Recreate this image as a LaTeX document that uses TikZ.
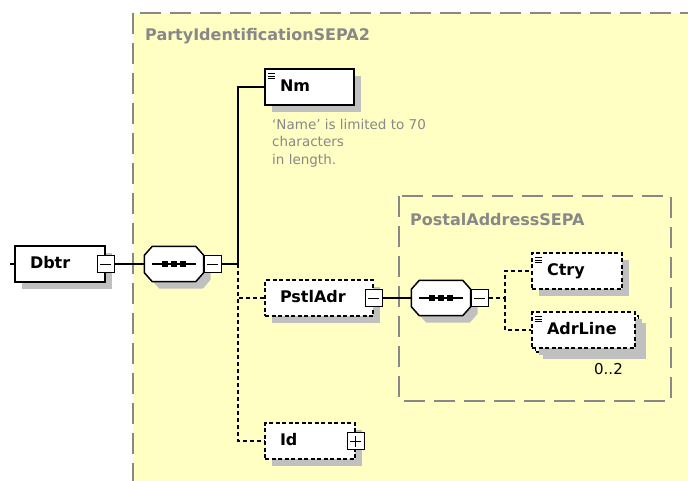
\documentclass[tikz,border=0pt]{standalone}
\usepackage{fontspec}
\setmainfont{DejaVu Sans}
\usepackage{tikz}
\usetikzlibrary{positioning, shadows}

\definecolor{groupfill}{RGB}{255,255,196}
\definecolor{groupline}{RGB}{136,136,136}
\definecolor{shade}{RGB}{192,192,192}

% Achteck fuer den Sequenz-Kompositor
\newcommand\octpath[1]{([xshift=8pt]#1.north west) -- ([xshift=-8pt]#1.north east) -- ([yshift=-9pt]#1.north east) -- ([yshift=9pt]#1.south east) -- ([xshift=-8pt]#1.south east) -- ([xshift=8pt]#1.south west) -- ([yshift=9pt]#1.south west) -- ([yshift=-9pt]#1.north west) -- cycle}
\newcommand\drawseq[1]{%
    \draw[fill=white, line width=1.5pt, general shadow={fill=shade, shadow xshift=7pt, shadow yshift=-7pt}] \octpath{#1};
    \draw[line width=1.3pt] ([xshift=8pt]#1.west) -- ([xshift=-8pt]#1.east);
    \foreach \dx in {-9,0,9} \fill ([xshift=\dx pt]#1.center) +(-3pt,-3pt) rectangle +(3pt,3pt);
}

\begin{document}
\begin{tikzpicture}[x=1pt, y=-1pt,
        group/.style={draw=groupline, fill=groupfill, line width=2pt, dash pattern=on 21pt off 9pt},
        grouptitle/.style={inner sep=0pt, text=groupline, font=\bfseries\fontsize{16}{18}\selectfont},
        elem/.style={rectangle, draw, fill=white, line width=1.5pt, text width=#1, align=left, inner xsep=15pt, inner ysep=0pt, minimum height=36pt, text height=12pt, text depth=3pt, font=\bfseries\fontsize{16}{18}\selectfont, general shadow={fill=shade, shadow xshift=7pt, shadow yshift=-7pt}},
        optelem/.style={elem=#1, dash pattern=on 4pt off 2.5pt},
        leaf/.style={path picture={\foreach \ly in {4.5,7,9.5} \draw[solid, line width=0.9pt] ([shift={(3pt,-\ly pt)}]path picture bounding box.north west) -- +(7pt,0pt);}},
        togglebox/.style={rectangle, draw, solid, fill=white, line width=1.3pt, minimum size=17pt, inner sep=0pt},
        expand/.style={togglebox, path picture={\draw[line width=1pt] ([xshift=3pt]path picture bounding box.west) -- ([xshift=-3pt]path picture bounding box.east);}},
        collapsed/.style={togglebox, path picture={\draw[line width=1pt] ([xshift=3pt]path picture bounding box.west) -- ([xshift=-3pt]path picture bounding box.east);
            \draw[line width=1pt] ([yshift=3pt]path picture bounding box.south) -- ([yshift=-3pt]path picture bounding box.north);}},
        seq/.style={rectangle, minimum width=59pt, minimum height=35pt, inner sep=0pt},
        note/.style={inner sep=0pt, align=left, text=groupline, font=\fontsize{13.5}{17.5}\selectfont},
        occurs/.style={inner sep=0pt, font=\fontsize{15}{17}\selectfont},
        link/.style={line width=1.4pt},
        optlink/.style={dash pattern=on 4pt off 3pt}
    ]
    \useasboundingbox (0,0) rectangle (688,481);
    \clip (0,0) rectangle (688,481);

    % Gruppen
    \draw[group] (133,13) rectangle (700,495);
    \node[grouptitle, anchor=west] (partytitle) at (145,36) {PartyIdentificationSEPA2};
    \draw[group] (399,196) rectangle (671,401);
    \node[grouptitle, anchor=west] (postaltitle) at (410,220) {PostalAddressSEPA};

    % Dbtr und Sequenz
    \node[elem=60pt] (dbtr) at (60,264) {Dbtr};
    \node[expand] (dbtrm) at (dbtr.east) {};
    \node[seq] (seq1) at (174,264) {};
    \drawseq{seq1}
    \node[expand, right=0pt of seq1] (seq1m) {};

    % Kinder
    \node[elem=59pt, leaf] (nm) at (309.5,87) {Nm};
    \node[note, anchor=north west] (nmnote) at (272,119) {`Name' is limited to 70\\characters\\in length.};
    \node[optelem=78pt] (pstl) at (319,298) {PstlAdr};
    \node[expand] (pstlm) at (pstl.east) {};
    \node[optelem=60pt] (id) at (310,441) {Id};
    \node[collapsed] (idm) at (id.east) {};

    % PostalAddressSEPA
    \node[seq] (seq2) at (441,298) {};
    \drawseq{seq2}
    \node[expand, right=0pt of seq2] (seq2m) {};
    \node[optelem=60pt, leaf] (ctry) at (577,271) {Ctry};
    \node[optelem=73pt] (adrback) at (587,334) {};
    \node[optelem=73pt, leaf] (adr) at (583.5,330) {AdrLine};
    \node[occurs, anchor=east] (adrocc) at (623,369) {0..2};

    % Verbindungen
    \coordinate (stub) at (10,264);
    \coordinate (fork1) at (238,264);
    \coordinate (fork2) at (505,298);
    \draw[link] (stub) -- (dbtr.west);
    \draw[link] (dbtrm.east) -- (seq1.west);
    \draw[link] (seq1m.east) -- (fork1) |- (nm.west);
    \draw[link, optlink] (fork1) |- (pstl.west);
    \draw[link, optlink] (fork1) |- (id.west);
    \draw[link] (pstlm.east) -- (seq2.west);
    \draw[link, optlink] (seq2m.east) -- (fork2) |- (ctry.west);
    \draw[link, optlink] (fork2) |- (adr.west);

\end{tikzpicture}
\end{document}
